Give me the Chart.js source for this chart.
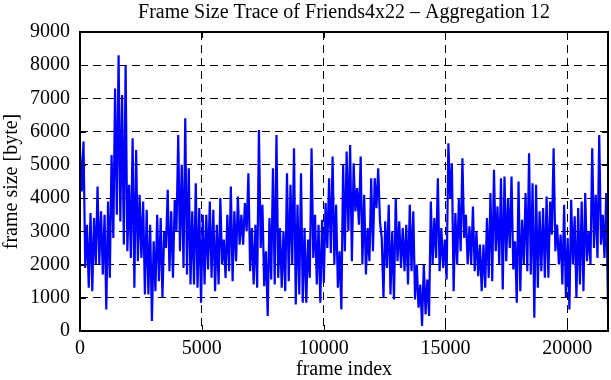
<!DOCTYPE html>
<html>
<head>
<meta charset="utf-8">
<script src="https://cdn.jsdelivr.net/npm/chart.js@4/dist/chart.umd.min.js"></script>
<style>
  html, body { margin: 0; padding: 0; background: #fff; }
  #grafico { display: block; }
</style>
</head>
<body>
<canvas id="grafico" width="611" height="380"></canvas>
<script>
const titulo = "Frame Size Trace of Friends4x22 \u2013 Aggregation 12";
const rotulo_x = "frame index";
const rotulo_y = "frame size [byte]";
const passo_quadros = 72; // frames entre amostras
const ticks_x = [0, 5000, 10000, 15000, 20000];
const ticks_y = [0, 1000, 2000, 3000, 4000, 5000, 6000, 7000, 8000, 9000];

// tamanhos (bytes) por trecho de ~2800 quadros
const trecho_1 = [5500,4200,5700,1900,3200,1300,3550,1200,3400,2000,4350,2000,3600,1700,3500,650,3900,1600,5300,2800,7300,3500,8300,3300,7100,2600,8000,2400,4400,2200,5800,1300,5450,2100,4100,2200,3900,1100];
const trecho_2 = [3650,1100,3200,300,2700,1200,3500,1500,3400,1000,3000,2500,4250,1800,3600,1600,3950,3000,5900,2400,5000,1900,6400,1700,4900,1400,3600,1400,4450,1300,3700,850,3500,1400,3500,1850,3900,1600,3650,1200];
const trecho_3 = [3200,1400,4000,2000,2750,1600,3500,1800,4350,1500,3600,2100,4050,2600,3500,2600,3850,3000,4750,1800,3100,1400,3200,1300,6050,2500,3800,1350,2400,450,3400,1550,4900,1400,5900,1600,3100,1300];
const trecho_4 = [3000,1200,4750,1500,4400,2000,5500,800,3800,1100,4750,850,3100,850,2750,1600,5500,2200,3500,1400,3200,850,3350,1450,3850,2500,4600,2350,5250,2000,3800,1300,2400,650,5000,2400,5400,3000];
const trecho_5 = [5600,2100,5050,3600,4300,3200,5250,2000,4100,1700,3100,2100,4600,2400,4600,3700,4900,3300,2800,1000,3300,1900,3800,1100,3000,950,4000,2100,3300,1900,3100,1800,3200,1400,3800,1800,3600,950];
const trecho_6 = [2000,700,1400,150,2000,500,1550,450,3900,2000,3400,2200,4600,1800,3100,1900,2750,1550,5650,4000,5050,1200,3550,2000,4000,2400,5200,2800,3500,2000,3150,2000,3750,1800,3000,1650,2600,1200];
const trecho_7 = [2600,1300,3400,1600,4150,1500,4850,2400,3750,2000,4600,1250,4650,2100,4000,2500,4650,1850,2700,850,4500,1200,3350,2000,4150,1800,5350,1700,4450,400,4400,1300,3600,1800,3700,1600,4050,1600];
const trecho_8 = [3900,2900,5500,2400,3200,2000,2900,1400,3800,1000,2800,650,3950,2000,3450,1000,3700,1400,3900,1200,4150,2100,3000,2000,5500,2500,4100,2200,5900,2600,3500,2200,4150,750];

const tamanhos_quadro = [].concat(trecho_1, trecho_2, trecho_3, trecho_4, trecho_5, trecho_6, trecho_7, trecho_8);
const fonte = "'Liberation Serif', 'Times New Roman', serif";

// moldura, tracinhos internos e titulo no estilo gnuplot
const moldura_plugin = {
  id: "moldura",
  afterDraw(chart) {
    const { ctx, chartArea: a, scales } = chart;
    ctx.save();
    ctx.strokeStyle = "#000";
    ctx.lineWidth = 1;
    ctx.beginPath();
    ticks_x.forEach((v) => {
      const px = Math.round(scales.x.getPixelForValue(v)) + 0.5;
      ctx.moveTo(px, a.bottom); ctx.lineTo(px, a.bottom - 6);
      ctx.moveTo(px, a.top); ctx.lineTo(px, a.top + 6);
    });
    ticks_y.forEach((v) => {
      const py = Math.round(scales.y.getPixelForValue(v)) + 0.5;
      ctx.moveTo(a.left, py); ctx.lineTo(a.left + 6, py);
      ctx.moveTo(a.right, py); ctx.lineTo(a.right - 6, py);
    });
    ctx.stroke();
    ctx.lineWidth = 2;
    ctx.strokeRect(a.left, a.top, a.right - a.left, a.bottom - a.top);
    ctx.fillStyle = "#000";
    ctx.font = "20px " + fonte;
    ctx.textAlign = "center";
    ctx.textBaseline = "alphabetic";
    ctx.fillText(titulo, (a.left + a.right) / 2, 18);
    ctx.restore();
  },
};

function montar_grafico(idElemento) {
  const ctx = document.getElementById(idElemento);
  const pontos = tamanhos_quadro.map((v, i) => ({ x: i * passo_quadros, y: v }));
  const x_max = (tamanhos_quadro.length - 1) * passo_quadros;
  const sem_virgula = (v) => String(v);

  return new Chart(ctx, {
    type: "line",
    data: {
      datasets: [{
        data: pontos,
        borderColor: "#0000ff",
        borderWidth: 2.2,
        pointRadius: 0,
        tension: 0,
        fill: false,
      }],
    },
    options: {
      responsive: false,
      animation: false,
      devicePixelRatio: 1,
      layout: { padding: { top: 32, right: 3, left: 0, bottom: 0 } },
      plugins: { legend: { display: false }, tooltip: { enabled: false }, title: { display: false } },
      scales: {
        x: {
          type: "linear",
          min: 0,
          max: x_max,
          afterFit: (s) => { s.height = 49; },
          afterBuildTicks: (s) => { s.ticks = ticks_x.map((v) => ({ value: v })); },
          ticks: { color: "#000", padding: 6, maxRotation: 0, callback: sem_virgula, font: { family: fonte, size: 20 } },
          grid: { color: "#000", lineWidth: 1, drawTicks: false },
          border: { display: false, dash: [8, 5] },
          title: { display: true, text: rotulo_x, color: "#000", padding: { top: 0, bottom: -2 }, font: { family: fonte, size: 20 } },
        },
        y: {
          min: 0,
          max: 9000,
          afterFit: (s) => { s.width = 80; },
          afterBuildTicks: (s) => { s.ticks = ticks_y.map((v) => ({ value: v })); },
          ticks: { color: "#000", padding: 10, callback: sem_virgula, font: { family: fonte, size: 20 } },
          grid: { color: "#000", lineWidth: 1, drawTicks: false },
          border: { display: false, dash: [8, 5] },
          title: { display: true, text: rotulo_y, color: "#000", padding: 0, font: { family: fonte, size: 20 } },
        },
      },
    },
    plugins: [moldura_plugin],
  });
}

montar_grafico("grafico");
</script>
</body>
</html>
